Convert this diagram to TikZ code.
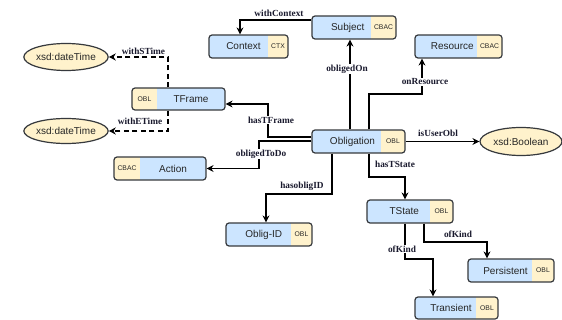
\documentclass[tikz,border=0pt]{standalone}
\usepackage{fontspec}
\setmainfont{Liberation Sans}
\newfontfamily\lblfont{Liberation Serif}
\usetikzlibrary{arrows.meta,shapes.geometric}
\definecolor{bluef}{HTML}{CCE5FF}
\definecolor{tanf}{HTML}{FFF2CC}
\definecolor{bord}{HTML}{36393D}
\definecolor{lblc}{HTML}{1A1A2E}
\tikzset{
 boxframe/.style={draw=bord, line width=1.2pt, rounded corners=3pt, inner sep=0pt},
 maintxt/.style={font=\fontsize{10}{12}\selectfont, text=black!85, inner sep=0pt},
 tagtxt/.style={font=\fontsize{6.8}{8}\selectfont, text=black!85, inner sep=0pt},
 ell/.style={ellipse, draw=bord, line width=1.2pt, fill=tanf, inner sep=0pt, font=\fontsize{10}{12}\selectfont, text=black!85},
 arr/.style={draw=black, line width=1.3pt, -{Stealth[length=7pt,width=7pt]}},
 dasharr/.style={arr, dash pattern=on 5pt off 3.5pt},
 lbl/.style={font=\lblfont\bfseries\fontsize{9.3}{11}\selectfont, text=lblc, fill=white, inner sep=0.8pt},
}
% tag on the right
\newcommand{\oboxR}[8]{%
 \begin{scope}
  \clip[rounded corners=3pt] (#2,#3) rectangle (#4,#5);
  \fill[bluef] (#2,#3) rectangle (#6,#5);
  \fill[tanf] (#6,#3) rectangle (#4,#5);
 \end{scope}
 \node[boxframe, minimum width={(#4-#2)*1pt}, minimum height={(#5-#3)*1pt}] (#1) at ({(#2+#4)/2},{(#3+#5)/2}) {};
 \node[maintxt] (#1-t) at ({((#2+#6)/2+(#2+#4)/2)/2},{(#3+#5)/2}) {#7};
 \node[tagtxt] (#1-g) at ({(#6+#4)/2},{(#3+#5)/2}) {#8};
}
% tag on the left
\newcommand{\oboxL}[8]{%
 \begin{scope}
  \clip[rounded corners=3pt] (#2,#3) rectangle (#4,#5);
  \fill[tanf] (#2,#3) rectangle (#6,#5);
  \fill[bluef] (#6,#3) rectangle (#4,#5);
 \end{scope}
 \node[boxframe, minimum width={(#4-#2)*1pt}, minimum height={(#5-#3)*1pt}] (#1) at ({(#2+#4)/2},{(#3+#5)/2}) {};
 \node[maintxt] (#1-t) at ({(#6+#4)/2},{(#3+#5)/2}) {#7};
 \node[tagtxt] (#1-g) at ({(#2+#6)/2},{(#3+#5)/2}) {#8};
}
\begin{document}
\begin{tikzpicture}[x=1pt,y=-1pt]
\fill[white] (0,0) rectangle (562,320);
\useasboundingbox (0,0) rectangle (562,320);

% boxes
\oboxR{subject}{312}{16}{396}{39}{371}{Subject}{CBAC}
\oboxR{res}{415}{35}{502}{58}{477}{Resource}{CBAC}
\oboxR{context}{209}{35}{288}{58}{268}{Context}{CTX}
\oboxL{tframe}{132}{88}{225}{110}{157}{TFrame}{OBL}
\oboxL{action}{114}{157}{206}{180}{140}{Action}{CBAC}
\oboxR{oblig}{312}{130}{405}{153}{381}{Obligation}{OBL}
\oboxR{obligid}{226}{223}{312}{246}{291}{Oblig-ID}{OBL}
\oboxR{tstate}{367}{200}{453}{223}{430}{TState}{OBL}
\oboxR{pers}{468}{259}{554}{282}{532}{Persistent}{OBL}
\oboxR{trans}{415}{297}{498}{319}{476}{Transient}{OBL}

% ellipses
\node[ell, minimum width=76pt, minimum height=27pt] (dt1) at (66,57) {xsd:dateTime};
\node[ell, minimum width=76pt, minimum height=25pt] (dt2) at (66,131) {xsd:dateTime};
\node[ell, minimum width=82pt, minimum height=28pt] (bool) at (521,141.5) {xsd:Boolean};

% connectors
\draw[arr] (subject.west |- 0,20) -| (context.north -| 240,0);
\draw[arr] (oblig.north -| 350,0) -- (subject.south -| 350,0);
\draw[arr] (oblig.north -| 369,0) |- (422,94) -- (res.south -| 422,0);
\draw[arr] (oblig.east) -- (bool.west);
\draw[arr] (oblig.west |- 0,137) -| (268,104) -- (tframe.east |- 0,104);
\draw[arr] (oblig.west |- 0,141) -| (259,168.5) -- (action.east);
\draw[arr] (oblig.south -| 332,0) |- (266,194) -- (obligid.north -| 266,0);
\draw[arr] (oblig.south -| 369,0) |- (405,177) -- (tstate.north -| 405,0);
\draw[arr] (tstate.south -| 424,0) |- (487,242) -- (pers.north -| 487,0);
\draw[arr] (tstate.south -| 405,0) |- (433,259) -- (trans.north -| 433,0);
\draw[dasharr] (tframe.north -| 168,0) |- (dt1.east);
\draw[dasharr] (tframe.south -| 168,0) |- (dt2.east);

% labels
\node[lbl] (l-ctx) at (279,13) {withContext};
\node[lbl] (l-on) at (347,69) {obligedOn};
\node[lbl] (l-res) at (425,82) {onResource};
\node[lbl] (l-user) at (438,133) {isUserObl};
\node[lbl] (l-tf) at (271,120) {hasTFrame};
\node[lbl] (l-todo) at (261,154) {obligedToDo};
\node[lbl] (l-id) at (302,186) {hasobligID};
\node[lbl] (l-ts) at (395,164) {hasTState};
\node[lbl] (l-k1) at (458,234) {ofKind};
\node[lbl] (l-k2) at (402,249) {ofKind};
\node[lbl] (l-st) at (143.5,51) {withSTime};
\node[lbl] (l-et) at (140,121) {withETime};
\end{tikzpicture}
\end{document}
